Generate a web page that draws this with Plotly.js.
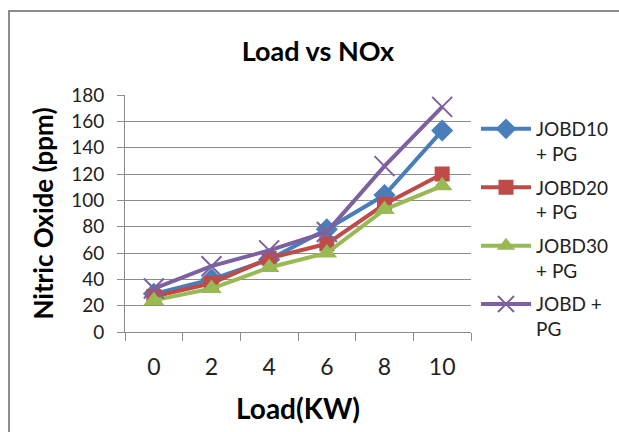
<!DOCTYPE html>
<html>
<head>
<meta charset="utf-8">
<script src="https://cdn.plot.ly/plotly-3.0.1.min.js"></script>
<style>
html,body{margin:0;padding:0;background:#fff;}
#chart{position:absolute;left:0;top:0;width:619px;height:432px;}
#frame{position:absolute;left:8px;top:10px;width:700px;height:500px;border-left:2px solid #8c8c8c;border-top:2px solid #8c8c8c;pointer-events:none;}
</style>
</head>
<body>
<div id="chart"></div>
<div id="frame"></div>
<script>
const loads = ['0', '2', '4', '6', '8', '10'];
const jobd10 = [29, 40, 55, 78, 104, 153];
const jobd20 = [27, 37, 56, 67, 97, 120];
const jobd30 = [24, 33, 49, 60, 93, 111];
const jobd = [33, 50, 62, 76, 126, 171];
const names = ['JOBD10<br>+ PG', 'JOBD20<br>+ PG', 'JOBD30<br>+ PG', 'JOBD +<br>PG'];
const colors = ['#4A7EBB', '#BE4B48', '#98B954', '#7D60A0'];

const FONT = 'Lato, "Open Sans", sans-serif';

const traces = [
  {x: loads, y: jobd10, name: names[0], legendgroup: 'a', mode: 'lines+markers',
   line: {color: colors[0], width: 4},
   marker: {symbol: 'diamond', size: 17, color: colors[0]}},
  {x: loads, y: jobd20, name: names[1], legendgroup: 'b', mode: 'lines+markers',
   line: {color: colors[1], width: 4},
   marker: {symbol: 'square', size: 15, color: colors[1]}},
  {x: loads, y: jobd30, name: names[2], legendgroup: 'c', mode: 'lines+markers',
   line: {color: colors[2], width: 4},
   marker: {symbol: 'triangle-up', size: 18, color: colors[2]}},
  {x: loads, y: jobd, name: names[3], legendgroup: 'd', mode: 'lines+markers',
   line: {color: colors[3], width: 4},
   marker: {symbol: 'x-thin-open', size: 20, color: colors[3], line: {color: colors[3], width: 2}}}
];

const layout = {
  width: 619, height: 432,
  margin: {l: 125, r: 148, t: 95, b: 100},
  paper_bgcolor: '#fff', plot_bgcolor: '#fff',
  font: {family: FONT, color: '#222'},
  title: {text: '<b>Load vs NOx</b>', font: {size: 27, color: '#000', family: FONT},
          x: 318/619, xref: 'container', xanchor: 'center', y: 1 - 52/432, yref: 'container', yanchor: 'middle'},
  xaxis: {
    type: 'category', tickson: 'boundaries', ticks: 'outside', ticklen: 8, tickcolor: '#8c8c8c',
    showline: true, linecolor: '#8c8c8c', linewidth: 1, showgrid: false, zeroline: false,
    tickfont: {size: 23, color: '#222'}, ticklabelstandoff: 14, range: [-0.5, 5.5],
    title: {text: '<b>Load(KW)</b>', font: {size: 28, color: '#000'}, standoff: 20}
  },
  yaxis: {
    range: [0, 180], dtick: 20, ticks: 'outside', ticklen: 7, tickcolor: '#8c8c8c',
    showline: true, linecolor: '#8c8c8c', linewidth: 1,
    showgrid: true, gridcolor: '#8c8c8c', gridwidth: 1, zeroline: false,
    tickfont: {size: 19, color: '#222'}, ticklabelstandoff: 9,
    title: {text: '<b>Nitric Oxide (ppm)</b>', font: {size: 26, color: '#000'}, standoff: 10}
  },
  legend: {
    x: 476/619 , xref: 'container', y: 1 - 110/432, yref: 'container', xanchor: 'left', yanchor: 'top',
    font: {size: 19, color: '#222'}, valign: 'top', bgcolor: 'rgba(0,0,0,0)', tracegroupgap: 6,
    itemwidth: 50, maxheight: 400
  },
  showlegend: true
};

Plotly.newPlot('chart', traces, layout, {staticPlot: true, displayModeBar: false});
</script>
</body>
</html>
